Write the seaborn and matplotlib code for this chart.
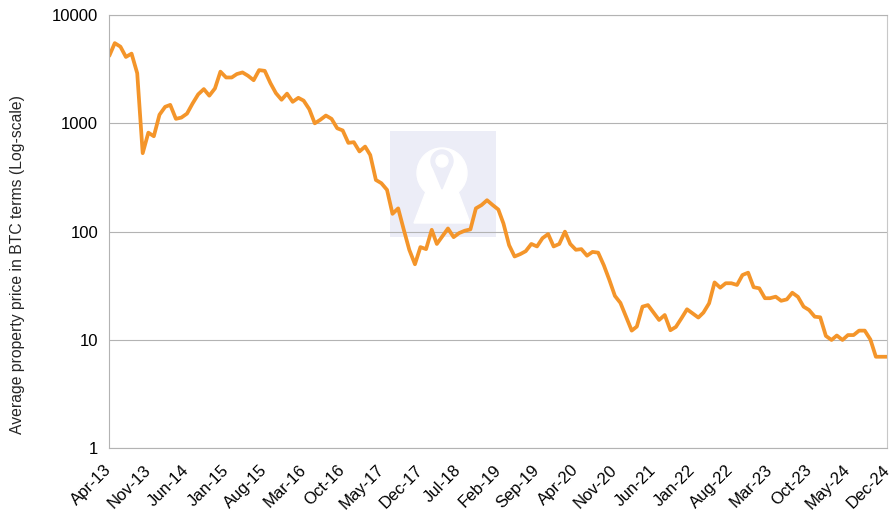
import numpy as np
import pandas as pd
import seaborn as sns
import matplotlib.pyplot as plt
from matplotlib.patches import Rectangle, Circle, Polygon

# monthly average property price expressed in BTC, Apr-13 .. Dec-24
months = pd.date_range('2013-04-01', periods=141, freq='MS')
price_btc = [
    4200, 5500, 5100, 4100, 4400, 2900, 530, 820, 760, 1200,
    1420, 1480, 1100, 1130, 1230, 1520, 1850, 2070, 1800, 2100,
    3000, 2650, 2650, 2850, 2950, 2750, 2500, 3100, 3050, 2350,
    1900, 1650, 1880, 1580, 1720, 1620, 1350, 1000, 1080, 1180,
    1100, 900, 860, 660, 670, 550, 610, 510, 300, 280,
    243, 146, 164, 104, 68, 50, 72, 69, 104, 77,
    91, 107, 89, 97, 102, 105, 164, 176, 195, 176,
    160, 119, 75, 59, 62, 66, 77, 73, 87, 95,
    73, 77, 100, 77, 68, 69, 60, 65, 64, 49,
    36, 25.5, 22, 16.4, 12.2, 13.3, 20.3, 21, 17.9, 15.3,
    17, 12.3, 13.2, 15.9, 19.2, 17.6, 16.1, 17.9, 21.8, 34,
    30.4, 33.4, 33.4, 32.2, 39.8, 41.8, 30.7, 30, 24.3, 24.3,
    25.1, 23, 23.7, 27.3, 25, 20.3, 18.9, 16.4, 16.2, 10.9,
    10, 11, 10, 11.1, 11.1, 12.2, 12.2, 10.1, 7.0, 7.0,
    7.0,
]
y_ticks = [1, 10, 100, 1000, 10000]
y_tick_labels = ['1', '10', '100', '1000', '10000']
x_tick_dates = months[::7]
x_tick_labels = [d.strftime('%b-%y') for d in x_tick_dates]

df = pd.DataFrame({'month': months, 'price': price_btc})

sns.set_style('white')
plt.rcParams['font.family'] = ['Liberation Sans', 'DejaVu Sans']

W, H = 894, 520
fig = plt.figure(figsize=(W / 100, H / 100), dpi=100)

# watermark (drawn in its own axes behind the chart)
wm = fig.add_axes([390 / W, 1 - 237 / H, 106 / W, 106 / H])
wm.set_xlim(0, 106)
wm.set_ylim(106, 0)
wm.axis('off')
wm_col = '#ecedf7'
wm.add_patch(Rectangle((0, 0), 106, 106, color=wm_col))
wm.add_patch(Circle((52, 42), 25, color='white'))
wm.add_patch(Polygon([(40, 50), (64, 50), (80, 92), (24, 92)], color='white'))
wm.add_patch(Circle((52, 30), 11, color=wm_col))
wm.add_patch(Polygon([(42, 34), (62, 34), (52, 58)], color=wm_col))
wm.add_patch(Circle((52, 30), 6, color='white'))

ax = fig.add_axes([109.3 / W, 1 - 448.3 / H, (887 - 109.3) / W, (448.3 - 15) / H])
ax.set_facecolor('none')
ax.set_zorder(2)

sns.lineplot(data=df, x='month', y='price', ax=ax, color='#f4952a', linewidth=2.7)

ax.set_yscale('log')
ax.set_ylim(1, 10000)
ax.set_yticks(y_ticks)
ax.set_yticklabels(y_tick_labels)
ax.minorticks_off()
ax.set_xlim(months[0], months[-1])
ax.set_xticks(x_tick_dates)
ax.set_xticklabels(x_tick_labels, rotation=45, ha='right', va='center',
                   rotation_mode='anchor')

ax.grid(axis='y', color='#b3b3b3', linewidth=0.8)
ax.grid(axis='x', visible=False)
for side in ['left', 'bottom', 'top']:
    ax.spines[side].set_color('#b3b3b3')
    ax.spines[side].set_linewidth(0.8)
ax.spines['right'].set_color('#c8c8c8')
ax.spines['right'].set_linewidth(0.8)

ax.tick_params(axis='both', which='major', direction='out', length=5, width=0.8,
               color='#b3b3b3', labelsize=12, labelcolor='black', pad=3)
ax.tick_params(axis='x', pad=9)

ax.set_xlabel('')
ax.set_ylabel('Average property price in BTC terms (Log-scale)', fontsize=11.3)
ax.yaxis.set_label_coords(-0.109, 0.425)

fig.savefig('out.png', dpi=100)
